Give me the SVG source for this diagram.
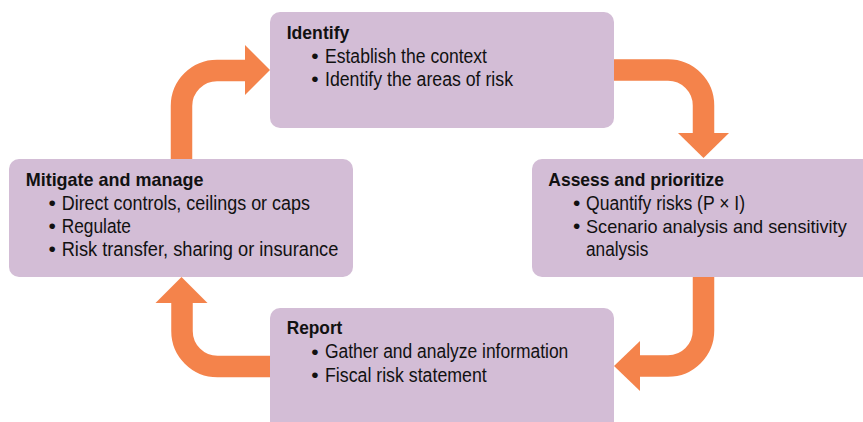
<svg xmlns="http://www.w3.org/2000/svg" width="863" height="422" viewBox="0 0 863 422">
  <style>
    .box { fill: #D3BDD6; }
    .shaft { fill: none; stroke: #F4834B; stroke-width: 21.5; stroke-linecap: butt; }
    .head { fill: #F4834B; }
    .t { font-family: "Liberation Sans", Arial, sans-serif; font-size: 19px; font-weight: bold; fill: #111; }
    .b { font-family: "Liberation Sans", Arial, sans-serif; font-size: 19.5px; fill: #111; }
    .dot { font-family: "Liberation Sans", Arial, sans-serif; font-size: 21px; fill: #111; text-anchor: middle; }
  </style>
  <rect width="863" height="422" fill="#ffffff"/>

  <g id="connectors">
    <path class="shaft" d="M181.5,165 V106 A35.5,35.5 0 0 1 217,70.5 H247"/>
    <polygon class="head" points="245,45 270,70 245,95"/>
    <path class="shaft" d="M608,70 H668 A35.5,35.5 0 0 1 703.5,105.5 V135"/>
    <polygon class="head" points="678,133 729,133 703.5,158"/>
    <path class="shaft" d="M703.5,270 V330.5 A35.5,35.5 0 0 1 668,366 H638"/>
    <polygon class="head" points="640,341 614,366 640,391"/>
    <path class="shaft" d="M276,366.5 H217.5 A35.5,35.5 0 0 1 182,331 V301"/>
    <polygon class="head" points="155.5,303 207.5,303 181.5,277"/>
  </g>

  <g id="identify">
    <rect class="box" x="270" y="12" width="344" height="116" rx="10"/>
    <text class="t" x="286.7" y="39" textLength="62.6" lengthAdjust="spacingAndGlyphs">Identify</text>
    <text class="dot" x="315" y="63">•</text>
    <text class="b" x="325" y="62.7" textLength="162" lengthAdjust="spacingAndGlyphs">Establish the context</text>
    <text class="dot" x="315" y="86.3">•</text>
    <text class="b" x="325" y="86" textLength="188" lengthAdjust="spacingAndGlyphs">Identify the areas of risk</text>
  </g>

  <g id="assess">
    <rect class="box" x="532" y="159" width="345" height="118" rx="10"/>
    <text class="t" x="548.3" y="186" textLength="175.7" lengthAdjust="spacingAndGlyphs">Assess and prioritize</text>
    <text class="dot" x="576.7" y="210.3">•</text>
    <text class="b" x="586" y="210" textLength="159" lengthAdjust="spacingAndGlyphs">Quantify risks (P × I)</text>
    <text class="dot" x="576.7" y="233.3">•</text>
    <text class="b" x="586" y="233" style="font-size:18.5px" textLength="260.7" lengthAdjust="spacingAndGlyphs">Scenario analysis and sensitivity</text>
    <text class="b" x="586" y="256" textLength="62.3" lengthAdjust="spacingAndGlyphs">analysis</text>
  </g>

  <g id="report">
    <rect class="box" x="270" y="308" width="344" height="130" rx="10"/>
    <text class="t" x="286.7" y="334" textLength="55.7" lengthAdjust="spacingAndGlyphs">Report</text>
    <text class="dot" x="315" y="358.6">•</text>
    <text class="b" x="325" y="358.3" textLength="243.3" lengthAdjust="spacingAndGlyphs">Gather and analyze information</text>
    <text class="dot" x="315" y="382">•</text>
    <text class="b" x="325" y="381.7" textLength="161.7" lengthAdjust="spacingAndGlyphs">Fiscal risk statement</text>
  </g>

  <g id="mitigate">
    <rect class="box" x="9" y="159" width="344" height="118" rx="10"/>
    <text class="t" x="25.7" y="186" textLength="177.7" lengthAdjust="spacingAndGlyphs">Mitigate and manage</text>
    <text class="dot" x="52.3" y="210.3">•</text>
    <text class="b" x="61.7" y="210" textLength="248.3" lengthAdjust="spacingAndGlyphs">Direct controls, ceilings or caps</text>
    <text class="dot" x="52.3" y="233.3">•</text>
    <text class="b" x="61.7" y="233" textLength="69.3" lengthAdjust="spacingAndGlyphs">Regulate</text>
    <text class="dot" x="52.3" y="256.3">•</text>
    <text class="b" x="61.7" y="256" textLength="276.7" lengthAdjust="spacingAndGlyphs">Risk transfer, sharing or insurance</text>
  </g>
</svg>
